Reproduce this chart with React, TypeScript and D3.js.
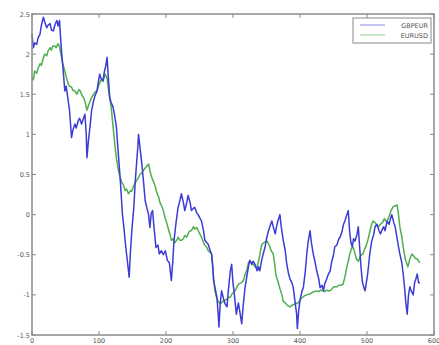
import React from "react";
import * as d3 from "d3";

const gbpIdx = [0, 2, 4, 7, 9, 12, 14, 17, 19, 22, 24, 27, 29, 32, 34, 37, 39, 41, 44, 46, 49, 51, 54, 56, 59, 61, 64, 66, 69, 71, 74, 76, 79, 81, 82, 84, 87, 89, 92, 94, 97, 99, 101, 103, 106, 108, 110, 112, 114, 116, 118, 121, 123, 126, 128, 130, 132, 135, 137, 140, 142, 145, 147, 149, 151, 152, 154, 156, 158, 159, 161, 164, 166, 169, 171, 174, 176, 178, 180, 182, 185, 188, 190, 193, 196, 199, 202, 205, 208, 210, 212, 215, 218, 220, 223, 226, 228, 231, 233, 236, 238, 241, 243, 246, 248, 251, 253, 256, 258, 261, 263, 266, 268, 270, 271, 273, 276, 278, 279, 281, 283, 286, 288, 291, 293, 296, 298, 300, 302, 305, 308, 310, 313, 315, 318, 321, 323, 325, 328, 330, 333, 336, 338, 340, 342, 345, 348, 350, 353, 355, 358, 360, 363, 365, 367, 370, 372, 375, 378, 380, 383, 385, 388, 390, 392, 395, 396, 398, 400, 403, 405, 408, 410, 412, 415, 417, 420, 422, 425, 428, 430, 433, 435, 437, 440, 442, 445, 447, 450, 452, 455, 458, 460, 463, 465, 467, 470, 472, 474, 476, 478, 480, 482, 485, 487, 489, 491, 493, 495, 497, 499, 501, 504, 507, 510, 512, 515, 518, 520, 522, 525, 527, 530, 533, 535, 537, 540, 542, 545, 547, 549, 552, 554, 556, 558, 560, 562, 564, 566, 569, 571, 573, 575, 577, 579];
const gbpVal = [2.25, 2.08, 2.14, 2.12, 2.2, 2.25, 2.36, 2.46, 2.4, 2.33, 2.36, 2.38, 2.3, 2.29, 2.36, 2.42, 2.35, 2.42, 2.04, 1.85, 1.54, 1.6, 1.42, 1.3, 0.96, 1.05, 1.13, 1.08, 1.17, 1.2, 1.13, 1.18, 1.25, 1.0, 0.71, 0.9, 1.13, 1.3, 1.42, 1.48, 1.54, 1.65, 1.75, 1.7, 1.67, 1.78, 1.85, 1.96, 1.7, 1.46, 1.4, 1.34, 1.25, 1.09, 0.85, 0.63, 0.4, 0.0, -0.15, -0.41, -0.55, -0.78, -0.45, -0.2, 0.0, 0.09, 0.4, 0.63, 0.85, 1.0, 0.85, 0.63, 0.45, 0.17, 0.1, 0.0, -0.16, 0.02, 0.05, -0.15, -0.41, -0.38, -0.49, -0.45, -0.5, -0.45, -0.57, -0.6, -0.82, -0.6, -0.32, -0.1, 0.09, 0.15, 0.26, 0.15, 0.05, 0.15, 0.24, 0.15, 0.05, 0.08, 0.09, 0.02, 0.0, -0.05, -0.08, -0.2, -0.32, -0.35, -0.37, -0.45, -0.49, -0.65, -0.82, -0.9, -1.03, -1.25, -1.4, -1.1, -0.95, -1.05, -1.11, -1.15, -0.95, -0.7, -0.62, -0.85, -0.99, -1.24, -1.1, -1.2, -1.36, -1.15, -0.91, -0.75, -0.65, -0.57, -0.62, -0.58, -0.62, -0.7, -0.65, -0.7, -0.6, -0.49, -0.4, -0.3, -0.2, -0.15, -0.08, -0.15, -0.24, -0.15, -0.08, 0.0, -0.15, -0.32, -0.45, -0.6, -0.74, -0.8, -0.85, -0.91, -1.05, -1.24, -1.42, -1.2, -1.07, -0.95, -0.91, -0.7, -0.5, -0.35, -0.2, -0.35, -0.5, -0.57, -0.7, -0.8, -0.91, -0.88, -0.95, -0.86, -0.8, -0.75, -0.7, -0.6, -0.5, -0.4, -0.38, -0.3, -0.28, -0.2, -0.12, -0.08, 0.0, 0.05, -0.2, -0.35, -0.4, -0.3, -0.33, -0.25, -0.15, -0.4, -0.65, -0.83, -0.9, -0.95, -0.85, -0.74, -0.5, -0.33, -0.25, -0.15, -0.12, -0.2, -0.24, -0.2, -0.15, -0.2, -0.08, -0.12, -0.05, 0.0, -0.1, -0.15, -0.3, -0.4, -0.49, -0.6, -0.74, -0.9, -1.1, -1.24, -1.0, -0.9, -0.95, -1.0, -0.85, -0.8, -0.74, -0.85, -0.85];

const eurIdx = [0, 2, 4, 7, 9, 12, 14, 16, 19, 22, 24, 27, 29, 31, 34, 36, 39, 41, 44, 46, 49, 51, 54, 56, 59, 61, 64, 67, 70, 72, 75, 77, 80, 82, 84, 87, 89, 92, 94, 97, 100, 103, 106, 109, 112, 115, 118, 121, 124, 126, 129, 131, 134, 136, 139, 141, 144, 147, 149, 151, 154, 156, 159, 161, 164, 166, 169, 171, 174, 176, 178, 181, 184, 186, 189, 191, 194, 196, 199, 201, 203, 206, 208, 211, 213, 216, 218, 221, 223, 226, 228, 231, 234, 236, 238, 241, 243, 246, 248, 251, 253, 256, 258, 261, 263, 266, 268, 270, 273, 276, 278, 281, 284, 286, 288, 291, 294, 296, 299, 301, 303, 306, 309, 312, 315, 318, 321, 323, 325, 328, 331, 334, 336, 339, 341, 343, 346, 348, 351, 354, 357, 360, 362, 364, 367, 370, 373, 375, 378, 381, 385, 388, 391, 394, 396, 399, 401, 404, 407, 410, 413, 415, 418, 421, 425, 428, 431, 434, 437, 440, 442, 445, 448, 451, 455, 458, 461, 464, 467, 470, 472, 474, 477, 479, 482, 484, 487, 490, 492, 494, 497, 499, 501, 504, 507, 509, 512, 515, 517, 520, 523, 526, 528, 530, 533, 536, 539, 542, 545, 547, 549, 552, 554, 557, 559, 561, 564, 567, 570, 573, 575, 577, 579];
const eurVal = [1.71, 1.68, 1.79, 1.76, 1.82, 1.88, 1.86, 1.93, 2.0, 1.98, 2.04, 2.08, 2.05, 2.1, 2.1, 2.08, 2.13, 2.1, 1.96, 1.88, 1.79, 1.72, 1.63, 1.6, 1.59, 1.55, 1.54, 1.5, 1.56, 1.54, 1.48, 1.46, 1.38, 1.3, 1.35, 1.42, 1.46, 1.5, 1.53, 1.54, 1.62, 1.68, 1.66, 1.75, 1.7, 1.5, 1.35, 1.1, 0.84, 0.7, 0.55, 0.48, 0.4, 0.38, 0.3, 0.32, 0.26, 0.3, 0.29, 0.34, 0.4, 0.42, 0.46, 0.5, 0.52, 0.55, 0.58, 0.6, 0.63, 0.55, 0.48, 0.42, 0.35, 0.28, 0.22, 0.15, 0.1, 0.05, -0.05, -0.1, -0.16, -0.25, -0.32, -0.3, -0.35, -0.32, -0.28, -0.32, -0.32, -0.3, -0.26, -0.28, -0.22, -0.2, -0.2, -0.15, -0.18, -0.16, -0.2, -0.25, -0.28, -0.35, -0.38, -0.41, -0.45, -0.47, -0.49, -0.7, -0.95, -1.05, -1.08, -1.11, -1.09, -1.07, -1.07, -1.05, -1.03, -1.03, -0.98, -0.97, -0.95, -0.9, -0.86, -0.85, -0.83, -0.75, -0.68, -0.6, -0.58, -0.6, -0.63, -0.66, -0.65, -0.55, -0.45, -0.37, -0.35, -0.34, -0.33, -0.38, -0.45, -0.49, -0.6, -0.75, -0.83, -0.92, -1.0, -1.08, -1.1, -1.13, -1.15, -1.13, -1.12, -1.1, -1.11, -1.08, -1.05, -1.03, -1.01, -1.0, -0.99, -0.99, -0.97, -0.96, -0.95, -0.96, -0.94, -0.95, -0.96, -0.94, -0.95, -0.95, -0.92, -0.9, -0.9, -0.88, -0.88, -0.87, -0.78, -0.65, -0.58, -0.5, -0.42, -0.4, -0.48, -0.55, -0.58, -0.52, -0.5, -0.49, -0.42, -0.38, -0.33, -0.22, -0.12, -0.08, -0.1, -0.14, -0.15, -0.12, -0.1, -0.05, -0.08, -0.08, -0.02, 0.05, 0.1, 0.11, 0.12, 0.0, -0.15, -0.28, -0.4, -0.55, -0.6, -0.65, -0.55, -0.49, -0.52, -0.55, -0.55, -0.58, -0.6];

const xTicks = [0, 100, 200, 300, 400, 500, 600];
const yTicks = [-1.5, -1, -0.5, 0, 0.5, 1, 1.5, 2, 2.5];
const seriesNames = ["GBPEUR", "EURUSD"];
const seriesColors = ["#3b3bd6", "#4fae4f"];

export default function App() {
  const L = 32, R = 434, T = 14, B = 335;
  const x = d3.scaleLinear().domain([0, 600]).range([L, R]);
  const y = d3.scaleLinear().domain([-1.5, 2.5]).range([B, T]);
  const line = d3.line<[number, number]>().x(d => x(d[0])).y(d => y(d[1]));
  const gbp: [number, number][] = gbpIdx.map((v, i) => [v, gbpVal[i]]);
  const eur: [number, number][] = eurIdx.map((v, i) => [v, eurVal[i]]);
  const axisColor = "#8a8a8a";
  const font = "'DejaVu Sans', sans-serif";
  return (
    <svg width={439} height={345} style={{ position: "absolute", left: 0, top: 0, background: "#fff" }}>
      <rect x={0} y={0} width={439} height={345} fill="#fff" />
      <path d={line(eur) || ""} fill="none" stroke={seriesColors[1]} strokeWidth={1.5} strokeLinejoin="round" />
      <path d={line(gbp) || ""} fill="none" stroke={seriesColors[0]} strokeWidth={1.5} strokeLinejoin="round" />
      <rect x={L} y={T} width={R - L} height={B - T} fill="none" stroke={axisColor} strokeWidth={1.5} />
      {xTicks.map(t => (
        <g key={"x" + t}>
          <line x1={x(t)} x2={x(t)} y1={B} y2={B - 4} stroke={axisColor} />
          <line x1={x(t)} x2={x(t)} y1={T} y2={T + 4} stroke={axisColor} />
          <text x={x(t)} y={343} fontSize={6.5} fill="#555" textAnchor="middle" fontFamily={font}>{t}</text>
        </g>
      ))}
      {yTicks.map(t => (
        <g key={"y" + t}>
          <line x1={L} x2={L + 4} y1={y(t)} y2={y(t)} stroke={axisColor} />
          <line x1={R} x2={R - 4} y1={y(t)} y2={y(t)} stroke={axisColor} />
          <text x={L - 2} y={y(t) + 2.5} fontSize={6.5} fill="#555" textAnchor="end" fontFamily={font}>{String(t)}</text>
        </g>
      ))}
      <rect x={353} y={18} width={78} height={25} fill="#fff" stroke={axisColor} strokeWidth={1} />
      {seriesNames.map((n, i) => (
        <g key={n}>
          <line x1={360} x2={385} y1={25 + i * 10} y2={25 + i * 10} stroke={seriesColors[i]} strokeOpacity={0.6} strokeWidth={1} />
          <text x={428} y={27.5 + i * 10} fontSize={6.5} fill="#555" textAnchor="end" fontFamily={font}>{n}</text>
        </g>
      ))}
    </svg>
  );
}
